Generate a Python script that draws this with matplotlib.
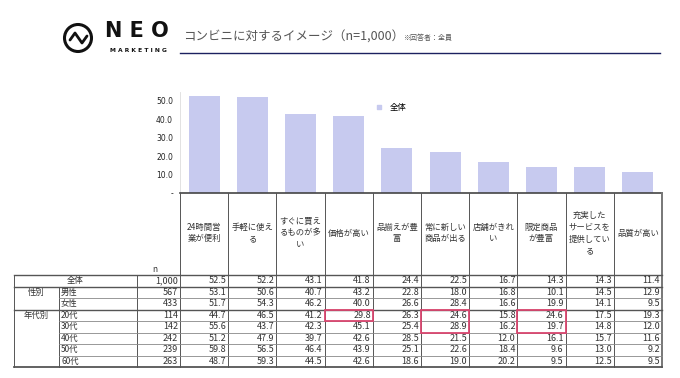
import matplotlib.pyplot as plt
from matplotlib.patches import Circle, Rectangle

plt.rcParams['font.family'] = ['Noto Sans CJK JP', 'DejaVu Sans']

# コンビニに対するイメージ data
items = ["24時間営\n業が便利", "手軽に使え\nる", "すぐに買え\nるものが多\nい", "価格が高い",
         "品揃えが豊\n富", "常に新しい\n商品が出る", "店舗がきれ\nい", "限定商品\nが豊富",
         "充実した\nサービスを\n提供してい\nる", "品質が高い"]
row_labels = ["全体", "男性", "女性", "20代", "30代", "40代", "50代", "60代"]
n_values = ["1,000", "567", "433", "114", "142", "242", "239", "263"]
total = [52.5, 52.2, 43.1, 41.8, 24.4, 22.5, 16.7, 14.3, 14.3, 11.4]
male = [53.1, 50.6, 40.7, 43.2, 22.8, 18.0, 16.8, 10.1, 14.5, 12.9]
female = [51.7, 54.3, 46.2, 40.0, 26.6, 28.4, 16.6, 19.9, 14.1, 9.5]
age20 = [44.7, 46.5, 41.2, 29.8, 26.3, 24.6, 15.8, 24.6, 17.5, 19.3]
age30 = [55.6, 43.7, 42.3, 45.1, 25.4, 28.9, 16.2, 19.7, 14.8, 12.0]
age40 = [51.2, 47.9, 39.7, 42.6, 28.5, 21.5, 12.0, 16.1, 15.7, 11.6]
age50 = [59.8, 56.5, 46.4, 43.9, 25.1, 22.6, 18.4, 9.6, 13.0, 9.2]
age60 = [48.7, 59.3, 44.5, 42.6, 18.6, 19.0, 20.2, 9.5, 12.5, 9.5]
rows = [total, male, female, age20, age30, age40, age50, age60]
# highlighted cells: (column, first row, last row)
highlights = [(3, 3, 3), (5, 3, 4), (7, 3, 4)]

W, H = 680, 378
BAR_COLOR = "#c7caef"
TXT = "#333333"

fig = plt.figure(figsize=(W / 100, H / 100), dpi=100)

# pixel layout
x0, x1 = 180, 662          # data columns
axis_y, top_y = 193, 92    # bar axis baseline / top
px_per_unit = 1.84
col_w = (x1 - x0) / len(items)
row_top = 275
row_h = 11.5

# bar chart
axb = fig.add_axes([x0 / W, (H - axis_y) / H, (x1 - x0) / W, (axis_y - top_y) / H])
axb.bar(range(len(items)), total, width=0.64, color=BAR_COLOR, zorder=2)
axb.set_xlim(-0.5, len(items) - 0.5)
axb.set_ylim(0, (axis_y - top_y) / px_per_unit)
axb.set_yticks([0, 10, 20, 30, 40, 50])
axb.set_yticklabels(["-", "10.0", "20.0", "30.0", "40.0", "50.0"], fontsize=5.5, color="#222222",
                    family="DejaVu Sans")
axb.tick_params(axis="y", length=0, pad=5)
axb.set_xticks([])
for s in ["top", "right"]:
    axb.spines[s].set_visible(False)
axb.spines["left"].set_color("#dddddd")
axb.spines["left"].set_linewidth(0.6)
axb.spines["bottom"].set_color("#444444")
axb.spines["bottom"].set_linewidth(1.2)
axb.scatter([], [], marker="s", s=6, color=BAR_COLOR, label="全体")
axb.legend(loc="upper left", bbox_to_anchor=(0.38, 0.97), frameon=False, fontsize=6,
           handletextpad=0.3, markerscale=1.0)

# overlay in pixel coordinates
ax = fig.add_axes([0, 0, 1, 1])
ax.set_xlim(0, W)
ax.set_ylim(H, 0)
ax.axis("off")
ax.patch.set_visible(False)

# logo
ax.add_patch(Circle((78, 38), 13.5, fill=False, lw=2.2, color="#111111"))
ax.plot([70, 75, 82, 87], [40, 33, 43, 36], color="#111111", lw=2.0, solid_capstyle="round",
        solid_joinstyle="round")
ax.text(137, 31, "N E O", fontsize=15, fontweight="bold", ha="center", va="center",
        color="#111111", family="DejaVu Sans")
ax.text(138, 51, "M A R K E T I N G", fontsize=4.3, fontweight="bold", ha="center",
        va="center", color="#111111", family="DejaVu Sans")

# title
ax.text(183, 37, "コンビニに対するイメージ（n=1,000）", fontsize=9, ha="left", va="center",
        color="#555555")
ax.text(403, 38, "※回答者：全員", fontsize=5, ha="left", va="center", color="#555555")
ax.plot([180, 660], [53, 53], color="#1c2160", lw=1.0)

# column headers
for i, label in enumerate(items):
    cx = x0 + col_w * (i + 0.5)
    ax.text(cx, 233, label, fontsize=6, ha="center", va="center", multialignment="center",
            linespacing=1.4, color=TXT)
ax.text(155, 269, "n", fontsize=6, ha="center", va="center", color=TXT)

# table grid
nrows = len(rows)
bottom = row_top + row_h * nrows
line_c = "#555555"
for i in range(len(items) + 1):
    x = x0 + col_w * i
    lw = 1.4 if i == len(items) else 0.7
    c = "#777777" if i == len(items) else line_c
    ax.plot([x, x], [axis_y, bottom], color=c, lw=lw)
ax.plot([14, 14], [row_top, bottom], color=line_c, lw=0.7)
ax.plot([137, 137], [row_top, bottom], color=line_c, lw=0.7)
ax.plot([59, 59], [row_top + row_h, bottom], color=line_c, lw=0.7)
for r in range(nrows + 1):
    y = row_top + row_h * r
    if r in (0, 1, 3, nrows):
        ax.plot([14, x1], [y, y], color=line_c, lw=1.0 if r != nrows else 1.3)
    else:
        ax.plot([59, x1], [y, y], color="#888888", lw=0.6)

# row labels
ax.text(75, row_top + row_h * 0.5, row_labels[0], fontsize=6, ha="center", va="center", color=TXT)
ax.text(36, row_top + row_h * 1.5, "性別", fontsize=6, ha="center", va="center", color=TXT)
ax.text(36, row_top + row_h * 3.5, "年代別", fontsize=6, ha="center", va="center", color=TXT)
for r in range(1, nrows):
    ax.text(61, row_top + row_h * (r + 0.5), row_labels[r], fontsize=6, ha="left", va="center",
            color=TXT)

# values
for r, vals in enumerate(rows):
    cy = row_top + row_h * (r + 0.5)
    ax.text(178, cy, n_values[r], fontsize=6.5, ha="right", va="center", color=TXT)
    for i, v in enumerate(vals):
        ax.text(x0 + col_w * (i + 1) - 2, cy, f"{v:.1f}", fontsize=6.5, ha="right", va="center",
                color=TXT)

# highlight boxes
for c, r0, r1 in highlights:
    ax.add_patch(Rectangle((x0 + col_w * c, row_top + row_h * r0), col_w, row_h * (r1 - r0 + 1),
                           fill=False, ec="#d9456e", lw=1.3, zorder=5))

fig.savefig("out.png", dpi=100)
